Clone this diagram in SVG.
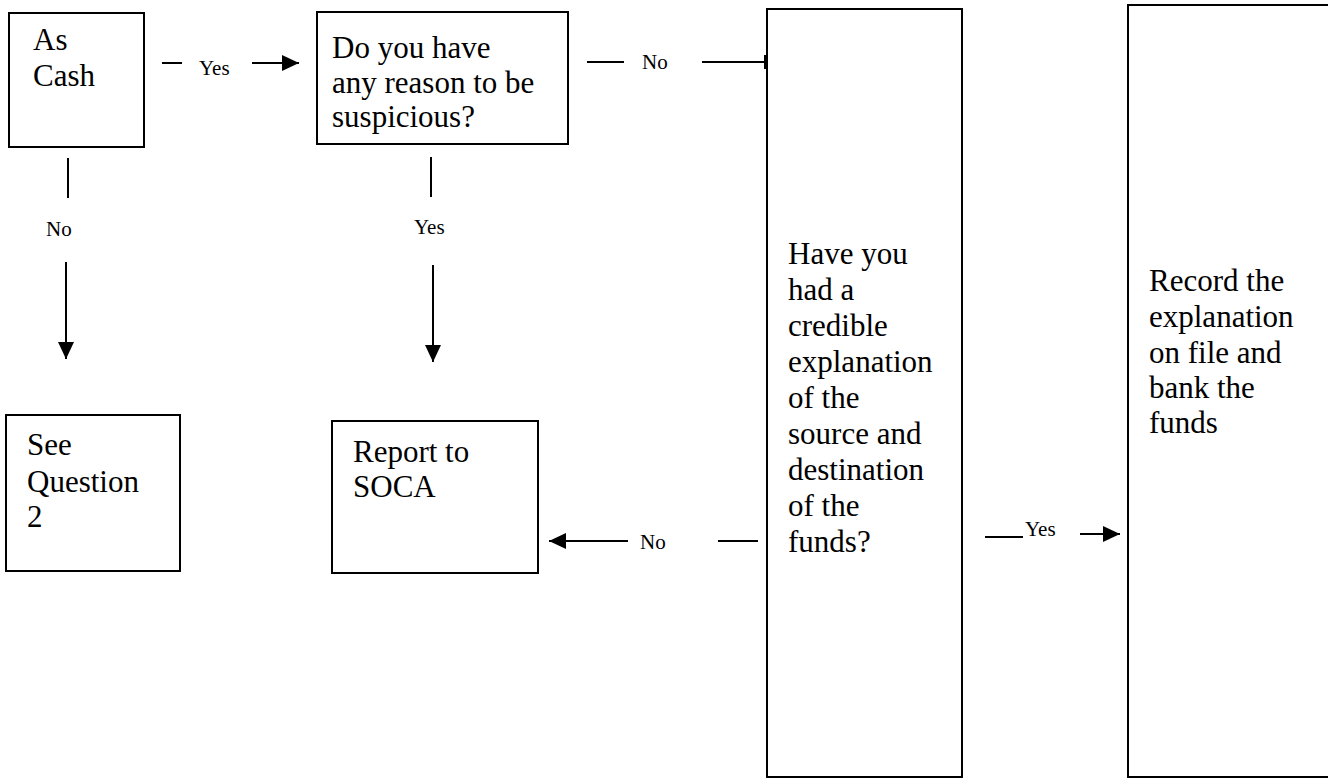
<svg xmlns="http://www.w3.org/2000/svg" width="1328" height="780" viewBox="0 0 1328 780">
<style>
.box{fill:#fff;stroke:#000;stroke-width:2}
.t{font-family:"Liberation Serif","Times New Roman",serif;font-size:31px;fill:#000}
.l{font-family:"Liberation Serif","Times New Roman",serif;font-size:21px;fill:#000}
.c{stroke:#000;stroke-width:2;fill:none}
</style>
<defs>
<marker id="ah" markerUnits="userSpaceOnUse" markerWidth="17" markerHeight="16" refX="17" refY="8" orient="auto">
<path d="M0,0 L17,8 L0,16 z" fill="#000"/>
</marker>
</defs>
<rect width="1328" height="780" fill="#fff"/>
<g id="n1">
<rect class="box" x="9" y="13" width="135" height="134"/>
<text class="t" x="33" y="50">As</text>
<text class="t" x="33" y="86">Cash</text>
</g>
<g id="n2">
<rect class="box" x="317" y="12" width="251" height="132"/>
<text class="t" x="332" y="58">Do you have</text>
<text class="t" x="332" y="93">any reason to be</text>
<text class="t" x="332" y="127">suspicious?</text>
</g>
<g id="n3">
<rect class="box" x="767" y="9" width="195" height="768"/>
<text class="t" x="788" y="264">Have you</text>
<text class="t" x="788" y="300">had a</text>
<text class="t" x="788" y="336">credible</text>
<text class="t" x="788" y="372">explanation</text>
<text class="t" x="788" y="408">of the</text>
<text class="t" x="788" y="444">source and</text>
<text class="t" x="788" y="480">destination</text>
<text class="t" x="788" y="516">of the</text>
<text class="t" x="788" y="552">funds?</text>
</g>
<g id="n4">
<rect class="box" x="1128" y="5" width="220" height="772"/>
<text class="t" x="1149" y="291">Record the</text>
<text class="t" x="1149" y="327">explanation</text>
<text class="t" x="1149" y="363">on file and</text>
<text class="t" x="1149" y="398">bank the</text>
<text class="t" x="1149" y="433">funds</text>
</g>
<g id="n5">
<rect class="box" x="6" y="415" width="174" height="156"/>
<text class="t" x="27" y="455">See</text>
<text class="t" x="27" y="492">Question</text>
<text class="t" x="27" y="527">2</text>
</g>
<g id="n6">
<rect class="box" x="332" y="421" width="206" height="152"/>
<text class="t" x="353" y="462">Report to</text>
<text class="t" x="353" y="497">SOCA</text>
</g>
<g id="connectors">
<line class="c" x1="162" y1="63" x2="182" y2="63"/>
<text class="l" x="199" y="75">Yes</text>
<line class="c" x1="252" y1="63" x2="299" y2="63" marker-end="url(#ah)"/>
<line class="c" x1="587" y1="62" x2="624" y2="62"/>
<text class="l" x="642" y="69">No</text>
<line class="c" x1="702" y1="62" x2="766" y2="62"/>
<line class="c" x1="765" y1="55" x2="765" y2="69"/>
<line class="c" x1="68" y1="158" x2="68" y2="198"/>
<text class="l" x="46" y="236">No</text>
<line class="c" x1="66" y1="262" x2="66" y2="359" marker-end="url(#ah)"/>
<line class="c" x1="431" y1="157" x2="431" y2="197"/>
<text class="l" x="414" y="234">Yes</text>
<line class="c" x1="433" y1="265" x2="433" y2="362" marker-end="url(#ah)"/>
<line class="c" x1="758" y1="541" x2="718" y2="541"/>
<text class="l" x="640" y="549">No</text>
<line class="c" x1="628" y1="541" x2="549" y2="541" marker-end="url(#ah)"/>
<line class="c" x1="985" y1="537" x2="1023" y2="537"/>
<text class="l" x="1025" y="536">Yes</text>
<line class="c" x1="1080" y1="534" x2="1120" y2="534" marker-end="url(#ah)"/>
</g>
</svg>
